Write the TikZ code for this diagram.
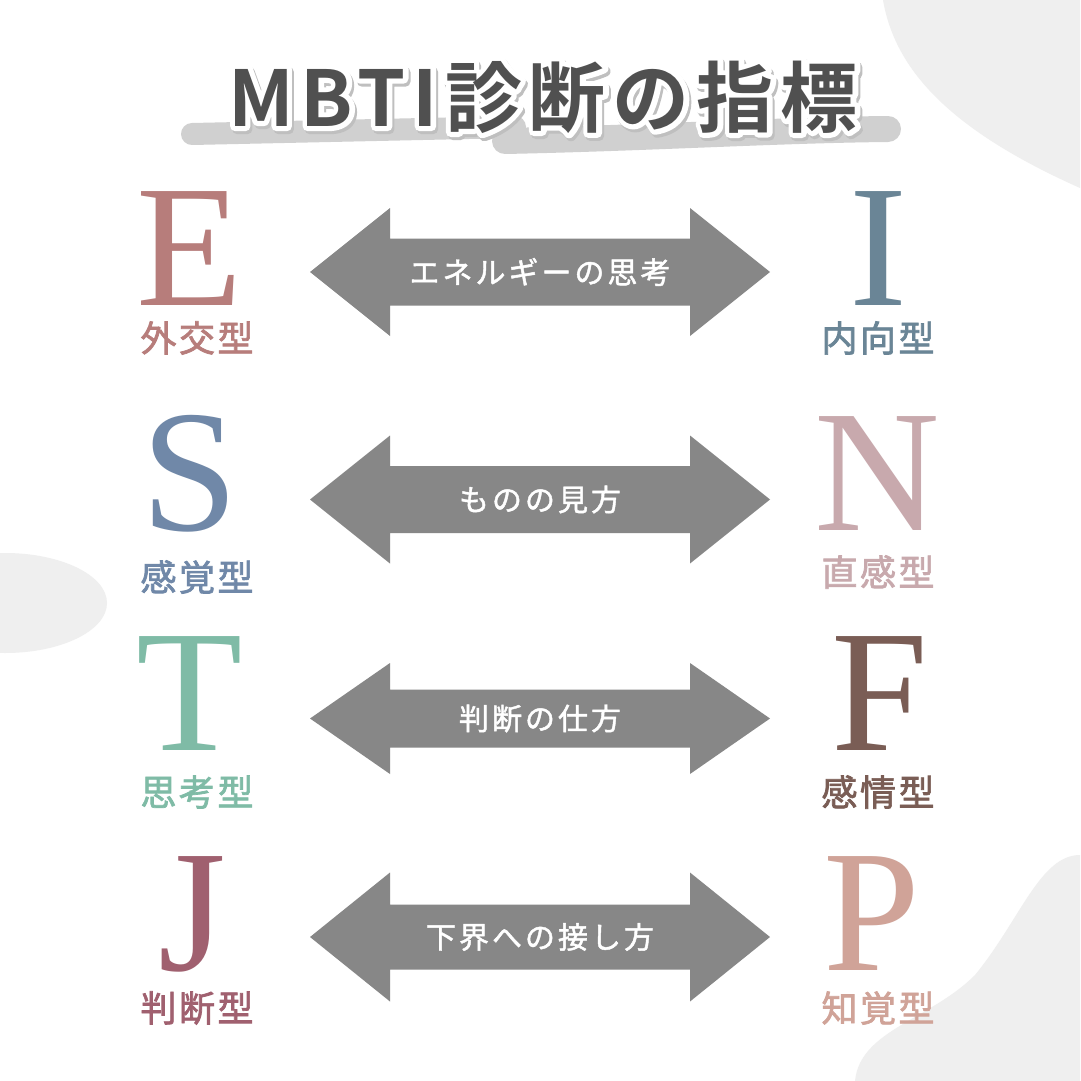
\documentclass[tikz,border=0pt]{standalone}
\usepackage{fontspec}
\setmainfont{Liberation Serif}
\newfontfamily\jplabel{Noto Sans CJK JP}[LetterSpace=7,FakeBold=2]
\newfontfamily\jparrowf{Noto Sans CJK JP}[LetterSpace=10,FakeBold=1.5]
\newfontfamily\jptitle{Noto Sans CJK JP}[UprightFont={* Bold},LetterSpace=9]
\newfontfamily\jptitleline{Noto Sans CJK JP}[UprightFont={* Bold},LetterSpace=9,FakeBold=13]
\definecolor{Ecol}{HTML}{B77D7B}
\definecolor{Icol}{HTML}{6A8596}
\definecolor{Scol}{HTML}{7088A8}
\definecolor{Ncol}{HTML}{C8A9AD}
\definecolor{Tcol}{HTML}{7FBBA6}
\definecolor{Fcol}{HTML}{7A5D55}
\definecolor{Jcol}{HTML}{A0606F}
\definecolor{Pcol}{HTML}{D0A398}
\definecolor{arrowgray}{HTML}{878787}
\definecolor{titlegray}{HTML}{505050}
\definecolor{brushgray}{HTML}{D0D0D0}
\definecolor{blobgray}{HTML}{EFEFEF}
\tikzset{
  blob/.style={fill=blobgray},
  brush/.style={draw=brushgray,line cap=round},
  bigletter/.style={inner sep=0pt,anchor=base,font=\fontsize{174}{180}\selectfont},
  typelabel/.style={inner sep=0pt,font=\jplabel\fontsize{36}{40}\selectfont},
  arrowtext/.style={inner sep=0pt,text=white,font=\jparrowf\fontsize{30}{34}\selectfont},
  arrowbody/.style={fill=arrowgray},
  titletext/.style={inner sep=0pt,font=\jptitle\fontsize{77}{90}\selectfont},
  titleline/.style={inner sep=0pt,font=\jptitleline\fontsize{77}{90}\selectfont},
}
\newcommand\mbtiarrow[5]{%
  \begin{scope}[shift={(0,#2)}]
    \fill[arrowbody] (310,0) -- (390,-#3) -- (390,-#4) -- (690,-#4) -- (690,-#3) -- (770,0)
      -- (690,#3) -- (690,#4) -- (390,#4) -- (390,#3) -- cycle;
    \node[arrowtext] (#1) at (540,0) {#5};
  \end{scope}}
\begin{document}
\begin{tikzpicture}[x=1pt,y=-1pt]
\useasboundingbox (0,0) rectangle (1080,1081);
\fill[white] (0,0) rectangle (1080,1081);
% background blobs
\fill[blob] (883,0) .. controls (895,70) and (950,130) .. (1080,188) -- (1080,0) -- cycle;
\fill[blob] (5,603) ellipse [x radius=102, y radius=50];
\fill[blob] (1080,855) .. controls (1040,855) and (1020,920) .. (975,975)
  .. controls (930,1020) and (860,1030) .. (855,1081) -- (1080,1081) -- cycle;
% brush strokes behind title
\draw[brush,line width=22pt] (192,134) -- (515,127);
\draw[brush,line width=26pt] (505,141) .. controls (650,138) and (780,130) .. (888,129);
% title: shadow, white outline, text
\node[titleline,text=black!25] (titleshadow) at (545,100) {\special{pdf:code 1 j 1 J}MBTI診断の指標};
\node[titleline,text=white] (titleoutline) at (543,97) {\special{pdf:code 1 j 1 J}MBTI診断の指標};
\node[titletext,text=titlegray] (title) at (543,97) {MBTI診断の指標};
% arrows
\mbtiarrow{a1}{272}{64}{33.5}{エネルギーの思考}
\mbtiarrow{a2}{499.5}{64}{33.5}{ものの見方}
\mbtiarrow{a3}{718.5}{55.5}{29}{判断の仕方}
\mbtiarrow{a4}{937}{64.5}{32.5}{下界への接し方}
% left letters
\node[bigletter,text=Ecol] (E) at (190,305) {E};
\node[bigletter,text=Scol] (S) at (190,530) {S};
\node[bigletter,text=Tcol] (T) at (190,750) {T};
\node[bigletter,text=Jcol] (J) at (192,970) {J};
% right letters
\node[bigletter,text=Icol] (I) at (878,305) {I};
\node[bigletter,text=Ncol] (N) at (877,530) {N};
\node[bigletter,text=Fcol] (F) at (880,750) {F};
\node[bigletter,text=Pcol] (P) at (872,970) {P};
% type labels
\node[typelabel,text=Ecol] (Elab) at (197,338) {外交型};
\node[typelabel,text=Scol] (Slab) at (197,577) {感覚型};
\node[typelabel,text=Tcol] (Tlab) at (197,792) {思考型};
\node[typelabel,text=Jcol] (Jlab) at (197,1008) {判断型};
\node[typelabel,text=Icol] (Ilab) at (878,338) {内向型};
\node[typelabel,text=Ncol] (Nlab) at (878,572) {直感型};
\node[typelabel,text=Fcol] (Flab) at (878,792) {感情型};
\node[typelabel,text=Pcol] (Plab) at (878,1008) {知覚型};
\end{tikzpicture}
\end{document}
